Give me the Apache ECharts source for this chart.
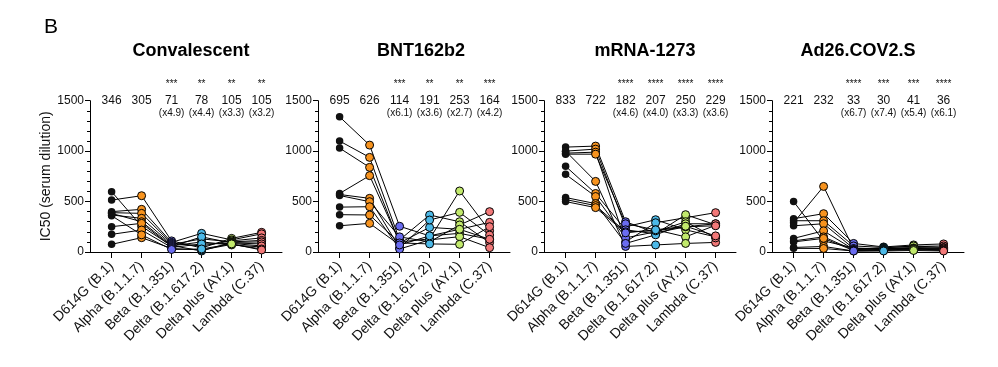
<!DOCTYPE html>
<html><head><meta charset="utf-8">
<script src="https://cdn.jsdelivr.net/npm/echarts@6/dist/echarts.min.js"></script>
<style>html,body{margin:0;padding:0;background:#fff}#c{width:998px;height:367px}</style>
</head><body><div id="c"></div>
<script>
// ---- data ----
const variants = ['D614G (B.1)', 'Alpha (B.1.1.7)', 'Beta (B.1.351)', 'Delta (B.1.617.2)', 'Delta plus (AY.1)', 'Lambda (C.37)'];
const variantColors = ['#111111', '#f7931e', '#6a6cf0', '#4cb9e8', '#c2ea6c', '#f27878'];
const panelTitles = ['Convalescent', 'BNT162b2', 'mRNA-1273', 'Ad26.COV2.S'];
const yTicks = [0, 500, 1000, 1500];

// one row per donor: [D614G, Alpha, Beta, Delta, Delta plus, Lambda]
const convalescentDonors = [
  [598, 255, 60, 100, 70, 50],
  [515, 558, 110, 40, 135, 195],
  [400, 423, 95, 185, 120, 180],
  [390, 383, 85, 60, 110, 140],
  [367, 334, 75, 130, 100, 115],
  [383, 300, 65, 10, 95, 100],
  [251, 284, 55, 150, 90, 80],
  [175, 218, 45, 80, 85, 60],
  [76, 142, 35, 20, 75, 30],
  [360, 170, 25, 30, 80, 20]
];
const bnt162b2Donors = [
  [1340, 1060, 255, 160, 185, 126],
  [1100, 938, 120, 367, 300, 93],
  [1030, 839, 90, 244, 225, 294],
  [580, 757, 100, 130, 605, 211],
  [570, 532, 40, 317, 393, 168],
  [560, 499, 150, 100, 268, 400],
  [445, 449, 30, 120, 152, 43],
  [370, 367, 90, 80, 76, 251],
  [260, 284, 70, 160, 225, 126]
];
const mrna1273Donors = [
  [1040, 1050, 300, 190, 250, 280],
  [1000, 1020, 250, 320, 220, 150],
  [980, 990, 100, 290, 340, 390],
  [970, 970, 280, 220, 150, 265],
  [1000, 700, 55, 70, 85, 95],
  [850, 580, 220, 180, 370, 270],
  [770, 550, 140, 200, 300, 140],
  [540, 480, 85, 170, 280, 280],
  [520, 460, 200, 210, 250, 260],
  [500, 440, 190, 220, 255, 160]
];
const ad26Donors = [
  [500, 110, 40, 30, 45, 35],
  [330, 380, 85, 50, 70, 80],
  [310, 310, 60, 45, 55, 60],
  [290, 650, 30, 40, 60, 45],
  [260, 280, 35, 35, 40, 40],
  [135, 210, 25, 30, 35, 25],
  [110, 150, 20, 25, 35, 30],
  [100, 135, 15, 20, 30, 20],
  [45, 55, 10, 15, 25, 15],
  [36, 35, 10, 10, 15, 10]
];
const convalescentMeans = ['346', '305', '71', '78', '105', '105'];
const bnt162b2Means = ['695', '626', '114', '191', '253', '164'];
const mrna1273Means = ['833', '722', '182', '207', '250', '229'];
const ad26Means = ['221', '232', '33', '30', '41', '36'];
const convalescentFolds = ['', '', '(x4.9)', '(x4.4)', '(x3.3)', '(x3.2)'];
const bnt162b2Folds = ['', '', '(x6.1)', '(x3.6)', '(x2.7)', '(x4.2)'];
const mrna1273Folds = ['', '', '(x4.6)', '(x4.0)', '(x3.3)', '(x3.6)'];
const ad26Folds = ['', '', '(x6.7)', '(x7.4)', '(x5.4)', '(x6.1)'];
const convalescentStars = ['', '', '***', '**', '**', '**'];
const bnt162b2Stars = ['', '', '***', '**', '**', '***'];
const mrna1273Stars = ['', '', '****', '****', '****', '****'];
const ad26Stars = ['', '', '****', '***', '***', '****'];

// ---- build ----
const panels = [
  {donors: convalescentDonors, means: convalescentMeans, folds: convalescentFolds, stars: convalescentStars},
  {donors: bnt162b2Donors, means: bnt162b2Means, folds: bnt162b2Folds, stars: bnt162b2Stars},
  {donors: mrna1273Donors, means: mrna1273Means, folds: mrna1273Folds, stars: mrna1273Stars},
  {donors: ad26Donors, means: ad26Means, folds: ad26Folds, stars: ad26Stars}
];
const FONT = '"Liberation Sans", Arial, Helvetica, sans-serif';
const gridLefts = [90, 318, 544, 772];
const titleCenters = [191, 421, 645, 858];
const catIdx = variants.map((_, i) => i);

const chart = echarts.init(document.getElementById('c'));
const grids = [], xAxes = [], yAxes = [], series = [];
panels.forEach((p, k) => {
  grids.push({left: gridLefts[k], top: 100.7, width: 192, height: 151.3, containLabel: false, outerBoundsMode: 'none'});
  xAxes.push({
    type: 'value', gridIndex: k, min: -0.72, max: 5.68,
    splitLine: {show: false},
    axisLine: {show: true, onZero: false, lineStyle: {color: '#000', width: 1}},
    axisTick: {show: true, customValues: catIdx, length: 6, lineStyle: {color: '#000', width: 1}},
    axisLabel: {show: true, customValues: catIdx, formatter: v => variants[Math.round(v)],
      rotate: 45, fontSize: 14, color: '#111', fontFamily: FONT, margin: 12}
  });
  yAxes.push({
    type: 'value', gridIndex: k, min: yTicks[0], max: yTicks[yTicks.length - 1], interval: 500,
    name: k === 0 ? 'IC50 (serum dilution)' : '', nameLocation: 'middle', nameGap: 36,
    nameTextStyle: {fontSize: 14, color: '#111', fontFamily: FONT},
    splitLine: {show: false},
    axisLine: {show: true, onZero: false, lineStyle: {color: '#000', width: 1}},
    axisTick: {show: true, length: 5, lineStyle: {color: '#000', width: 1}},
    minorTick: {show: true, splitNumber: 5, length: 3, lineStyle: {color: '#000', width: 1}},
    axisLabel: {fontSize: 12, color: '#111', fontFamily: FONT, margin: 6, formatter: v => String(v)}
  });
  p.donors.forEach(row => {
    series.push({type: 'line', xAxisIndex: k, yAxisIndex: k, data: row.map((v, i) => [i, v]),
      symbol: 'none', silent: true, z: 2, lineStyle: {color: '#000', width: 1}, animation: false});
  });
  variants.forEach((name, i) => {
    series.push({type: 'scatter', xAxisIndex: k, yAxisIndex: k, z: 3, animation: false,
      symbol: 'circle', symbolSize: i === 0 ? 7.5 : 8,
      itemStyle: {color: variantColors[i], borderColor: '#000', borderWidth: i === 0 ? 0 : 1, opacity: 1},
      data: p.donors.map(row => [i, row[i]])});
  });
});

chart.setOption({animation: false, grid: grids, xAxis: xAxes, yAxis: yAxes, series: series});

const g = [];
g.push({type: 'text', x: 44, y: 17, style: {text: 'B', font: '21px ' + FONT, fill: '#000'}});
panels.forEach((p, k) => {
  g.push({type: 'text', x: titleCenters[k], y: 51,
    style: {text: panelTitles[k], font: 'bold 18px ' + FONT, fill: '#000', textAlign: 'center', textVerticalAlign: 'middle'}});
  variants.forEach((_, i) => {
    const pt = chart.convertToPixel({gridIndex: k}, [i, yTicks[yTicks.length - 1]]);
    g.push({type: 'text', x: pt[0], y: pt[1] - 0.5,
      style: {text: p.means[i], font: '12px ' + FONT, fill: '#111', textAlign: 'center', textVerticalAlign: 'middle'}});
    if (p.folds[i]) g.push({type: 'text', x: pt[0], y: pt[1] + 13,
      style: {text: p.folds[i], font: '10px ' + FONT, fill: '#111', textAlign: 'center', textVerticalAlign: 'middle'}});
    if (p.stars[i]) g.push({type: 'text', x: pt[0], y: pt[1] - 16,
      style: {text: p.stars[i], font: '10px ' + FONT, fill: '#111', textAlign: 'center', textVerticalAlign: 'middle'}});
  });
});
chart.setOption({graphic: g});
</script></body></html>
